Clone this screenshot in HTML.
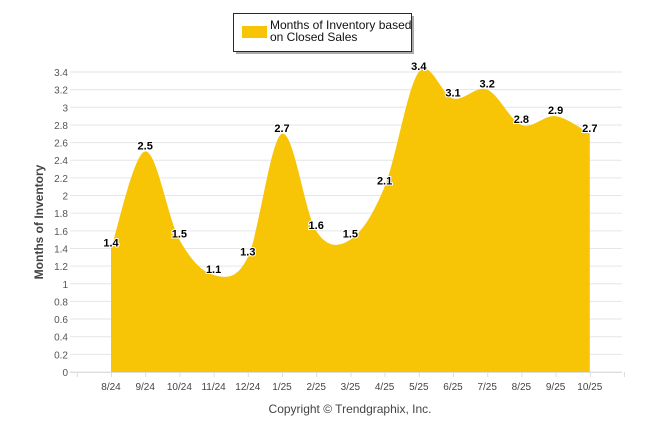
<!DOCTYPE html>
<html><head><meta charset="utf-8"><style>
body{margin:0;background:#fff;width:646px;height:434px;overflow:hidden;font-family:"Liberation Sans",sans-serif}
</style></head><body>
<svg id="chart" width="646" height="434" xmlns="http://www.w3.org/2000/svg">
<g id="grid"></g>
<g id="yticks"></g>
<path id="area" fill="#F7C406" stroke="none"></path>
<g id="xticks"></g>
<g id="labels"></g>
<text transform="translate(43,222) rotate(-90)" text-anchor="middle" font-size="12" font-weight="bold" fill="#444">Months of Inventory</text>
<text x="350" y="413" text-anchor="middle" font-size="12" fill="#444">Copyright © Trendgraphix, Inc.</text>
<g>
<rect x="236" y="16" width="178" height="38" fill="#555" opacity="0.5"/>
<rect x="233.5" y="13.5" width="178" height="38" fill="#fff" stroke="#1a2a4a" stroke-width="1"/>
<rect x="242" y="26" width="25" height="12" fill="#F7C406"/>
<text x="270" y="29" font-size="12" fill="#111">Months of Inventory based</text>
<text x="270" y="41" font-size="12" fill="#111">on Closed Sales</text>
</g>
</svg>
<script>
const categories=["8/24","9/24","10/24","11/24","12/24","1/25","2/25","3/25","4/25","5/25","6/25","7/25","8/25","9/25","10/25"];
const values=[1.4,2.5,1.5,1.1,1.3,2.7,1.6,1.5,2.1,3.4,3.1,3.2,2.8,2.9,2.7];
const yTicks=[0,0.2,0.4,0.6,0.8,1,1.2,1.4,1.6,1.8,2,2.2,2.4,2.6,2.8,3,3.2,3.4];
const NS="http://www.w3.org/2000/svg";
const x0=111,dx=34.2,yb=372,ppu=300/3.4;
const X=i=>x0+i*dx, Y=v=>yb-v*ppu;
function el(t,a,p){const e=document.createElementNS(NS,t);for(const k in a)e.setAttribute(k,a[k]);p.appendChild(e);return e;}
const grid=document.getElementById('grid'),yt=document.getElementById('yticks');
yTicks.forEach(v=>{
 const l=el('line',{x1:70,x2:622,y1:Y(v),y2:Y(v),stroke:'#e6e6e6'},grid);
 
 
 const t=el('text',{x:68,y:Y(v)+4,'text-anchor':'end','font-size':10,fill:'#555'},yt);
 t.textContent=String(v);
 
 
});
const xt=document.getElementById('xticks');
el('line',{x1:70,x2:622,y1:yb+0.5,y2:yb+0.5,stroke:'#ddd'},xt);
for(let i=-1;i<=categories.length;i++) el('line',{x1:X(i)+0.5,x2:X(i)+0.5,y1:yb,y2:yb+5,stroke:'#ddd'},xt);
categories.forEach((c,i)=>{
 const t=el('text',{x:X(i),y:yb+18,'text-anchor':'middle','font-size':10,fill:'#444'},xt);
 t.textContent=c;
 
 
});
const pts=values.map((v,i)=>[X(i),Y(v)]);
let d=`M${pts[0][0]},${yb} L${pts[0][0]},${pts[0][1]}`;
const s=1.5;
for(let i=0;i<pts.length-1;i++){
 const p0=pts[Math.max(0,i-1)],p1=pts[i],p2=pts[i+1],p3=pts[Math.min(pts.length-1,i+2)];
 const c1=[p1[0]+(p2[0]-p0[0])/(s*4),p1[1]+(p2[1]-p0[1])/(s*4)];
 const c2=[p2[0]-(p3[0]-p1[0])/(s*4),p2[1]-(p3[1]-p1[1])/(s*4)];
 d+=` C${c1[0]},${c1[1]} ${c2[0]},${c2[1]} ${p2[0]},${p2[1]}`;
}
d+=` L${pts[pts.length-1][0]},${yb} Z`;
document.getElementById('area').setAttribute('d',d);
const lb=document.getElementById('labels');
values.forEach((v,i)=>{
 const t=el('text',{x:X(i),y:Y(v)-2,'text-anchor':'middle','font-size':11,'font-weight':'bold',fill:'#000',stroke:'#fff','stroke-width':2,'paint-order':'stroke'},lb);
 t.textContent=v.toFixed(1);
 
 
});
</script>
</body></html>
